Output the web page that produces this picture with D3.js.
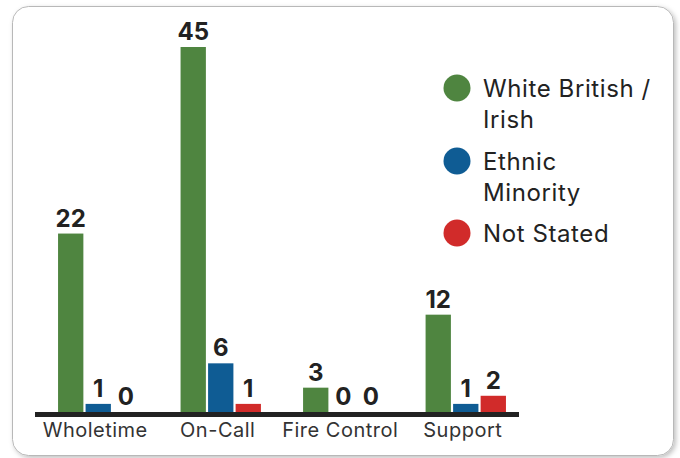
<!DOCTYPE html>
<html>
<head>
<meta charset="utf-8">
<script src="https://cdn.jsdelivr.net/npm/d3@7/dist/d3.min.js"></script>
<style>
  html, body { margin: 0; padding: 0; background: #fff; }
  svg { display: block; }
</style>
</head>
<body>
<svg id="chart" width="680" height="458"></svg>
<script>
// Staff groups and counts by ethnicity
const categories = ["Wholetime", "On-Call", "Fire Control", "Support"];
const seriesNames = ["White British / Irish", "Ethnic Minority", "Not Stated"];
const legendLines = [["White British /", "Irish"], ["Ethnic", "Minority"], ["Not Stated"]];
const whiteBritishIrish = [22, 45, 3, 12];
const ethnicMinority = [1, 6, 0, 1];
const notStated = [0, 1, 0, 2];
const colors = ["#4f8540", "#0f5c94", "#d12b2a"];

const seriesValues = [whiteBritishIrish, ethnicMinority, notStated];
const rows = categories.map((c, i) => ({
  category: c,
  values: seriesNames.map((s, k) => ({ key: k, value: seriesValues[k][i] }))
}));

const svg = d3.select("#chart");
const fontFamily = "Inter, 'Noto Sans', sans-serif";

// Card with soft shadow
const defs = svg.append("defs");
const shadow = defs.append("filter").attr("id", "shadow")
  .attr("x", "-5%").attr("y", "-5%").attr("width", "110%").attr("height", "110%");
shadow.append("feDropShadow").attr("dx", 2).attr("dy", 2)
  .attr("stdDeviation", 2.5).attr("flood-color", "#000").attr("flood-opacity", 0.25);

svg.append("rect")
  .attr("x", 12.5).attr("y", 6.5).attr("width", 661).attr("height", 449)
  .attr("rx", 16).attr("ry", 16)
  .attr("fill", "#fff").attr("stroke", "#b8b8b8").attr("stroke-width", 1)
  .attr("filter", "url(#shadow)");

// Scales
const x0 = d3.scaleBand().domain(categories).range([36, 528])
  .paddingInner(0.344).paddingOuter(0.18);
const x1 = d3.scaleBand().domain(d3.range(seriesNames.length))
  .range([0, x0.bandwidth()]).paddingInner(0.08);
const y = d3.scaleLinear().domain([0, 45]).range([412, 47]);

// Bars
const groups = svg.append("g").selectAll("g").data(rows).join("g")
  .attr("transform", d => `translate(${x0(d.category)},0)`);

groups.selectAll("rect").data(d => d.values).join("rect")
  .attr("x", d => x1(d.key))
  .attr("width", x1.bandwidth())
  .attr("y", d => y(d.value))
  .attr("height", d => y(0) - y(d.value))
  .attr("fill", d => colors[d.key]);

groups.selectAll("text").data(d => d.values).join("text")
  .attr("x", d => x1(d.key) + x1.bandwidth() / 2)
  .attr("y", d => y(d.value) - 7)
  .attr("text-anchor", "middle")
  .attr("font-family", fontFamily)
  .attr("font-weight", 700)
  .attr("font-size", 24)
  .attr("fill", "#222")
  .text(d => d.value);

// Baseline axis
const xAxis = d3.axisBottom(x0).tickSize(0).tickPadding(11);
const axisG = svg.append("g").attr("transform", `translate(-3,${y(0)})`).call(xAxis);
axisG.select(".domain").remove();
axisG.selectAll("text")
  .attr("font-family", fontFamily)
  .attr("font-size", 20)
  .attr("letter-spacing", 0.5)
  .attr("fill", "#333");
svg.append("line")
  .attr("x1", 35).attr("x2", 519)
  .attr("y1", y(0) + 2.5).attr("y2", y(0) + 2.5)
  .attr("stroke", "#222").attr("stroke-width", 5);

// Legend
const legendTop = [88, 161, 233];
const legend = svg.append("g").selectAll("g").data(seriesNames).join("g")
  .attr("transform", (d, i) => `translate(457,${legendTop[i]})`);
legend.append("circle").attr("r", 13.5).attr("fill", (d, i) => colors[i]);
legend.append("text")
  .attr("font-family", fontFamily)
  .attr("font-size", 24)
  .attr("letter-spacing", 0.6)
  .attr("fill", "#222")
  .selectAll("tspan").data((d, i) => legendLines[i]).join("tspan")
  .attr("x", 26)
  .attr("y", (d, j) => 9 + j * 31)
  .text(d => d);
</script>
</body>
</html>
